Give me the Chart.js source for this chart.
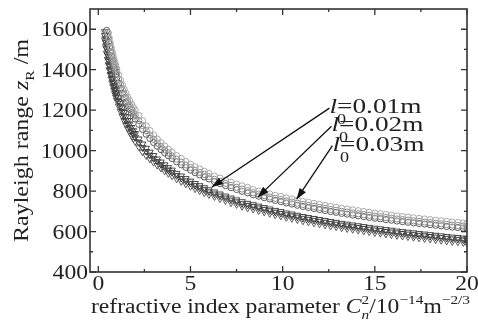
<!DOCTYPE html>
<html>
<head>
<meta charset="utf-8">
<script src="https://cdn.jsdelivr.net/npm/chart.js@4.4.0/dist/chart.umd.min.js"></script>
<style>
  html, body { margin: 0; padding: 0; background: #fff; }
</style>
</head>
<body>
<canvas id="chart" width="478" height="324"></canvas>
<script>
// values (Rayleigh range in m against Cn^2 in 1e-14 m^-2/3)
const xValues = [
  0.35, 0.4, 0.45, 0.5, 0.55, 0.6, 0.65, 0.7, 0.75, 0.8, 0.85, 0.9, 0.95, 1.0,
  1.1, 1.2, 1.3, 1.4, 1.5, 1.6, 1.7, 1.8, 1.9, 2.0, 2.2, 2.4,
  2.6, 2.8, 3.0, 3.2, 3.4, 3.6, 3.8, 4.0, 4.25, 4.5, 4.75, 5.0, 5.25, 5.5, 5.75, 6.0,
  6.3, 6.6, 6.9, 7.2, 7.5, 7.8, 8.1,
  8.4, 8.7, 9.0, 9.3, 9.6, 9.9, 10.2, 10.5, 10.8, 11.1, 11.4, 11.7, 12.0, 12.3, 12.6, 12.9, 13.2, 13.5, 13.8, 14.1,
  14.4, 14.7, 15.0, 15.3, 15.6, 15.9, 16.2, 16.5, 16.8, 17.1, 17.4, 17.7, 18.0, 18.3, 18.6, 18.9, 19.2, 19.5, 19.8, 20
];

// upper group, hollow circles (l0 = 0.01 / 0.02 / 0.03 m)
const upper001 = [
  null, null, 1594, 1564, 1537, 1512, 1489, 1467, 1447, 1428, 1410, 1393, 1377, 1361,
  1333, 1307, 1283, 1261, 1240, 1221, 1204, 1187, 1171, 1157, 1130, 1105,
  1081, 1060, 1040, 1022, 1005, 989, 975, 961, 945, 930, 917, 904, 891, 880, 870, 860,
  847, 837, 827, 817, 808, 799, 791,
  782, 775, 768, 761, 754, 748, 741, 736, 730, 724, 719, 714, 709, 704, 699, 695, 690, 686, 682, 678,
  674, 670, 666, 663, 659, 656, 652, 649, 646, 643, 640, 637, 634, 631, 628, 625, 622, 620, 617, 615
];
const upper002 = [
  null, null, null, 1583, 1556, 1531, 1508, 1486, 1466, 1447, 1429, 1412, 1396, 1380,
  1352, 1326, 1302, 1280, 1259, 1240, 1223, 1206, 1190, 1176, 1149, 1124,
  1099, 1077, 1056, 1037, 1020, 1003, 988, 974, 958, 943, 929, 916, 903, 892, 882, 871,
  858, 848, 838, 828, 819, 810, 802,
  792, 785, 778, 771, 764, 758, 751, 746, 740, 734, 729, 724, 719, 714, 709, 705, 700, 696, 692, 688,
  684, 680, 676, 673, 669, 666, 662, 659, 656, 653, 650, 647, 644, 641, 638, 635, 632, 630, 627, 625
];
const upper003 = [
  null, null, null, null, 1580, 1555, 1532, 1510, 1490, 1471, 1453, 1436, 1420, 1404,
  1376, 1350, 1326, 1304, 1283, 1264, 1247, 1230, 1214, 1200, 1173, 1148,
  1122, 1099, 1077, 1057, 1039, 1023, 1007, 993, 975, 961, 946, 933, 920, 909, 898, 887,
  874, 864, 854, 844, 835, 826, 818,
  807, 800, 793, 786, 779, 773, 766, 761, 755, 749, 744, 739, 734, 729, 724, 720, 715, 711, 707, 703,
  699, 695, 691, 688, 684, 681, 677, 674, 671, 668, 665, 662, 659, 656, 653, 650, 647, 645, 642, 640
];

// lower group, down triangles
const lower1 = [
  1588, 1554, 1522, 1492, 1465, 1440, 1417, 1395, 1375, 1356, 1338, 1321, 1305, 1289,
  1261, 1235, 1211, 1189, 1168, 1149, 1132, 1115, 1099, 1085, 1058, 1033,
  1012, 993, 976, 959, 944, 930, 916, 904, 888, 875, 862, 850, 838, 827, 817, 807,
  796, 786, 776, 766, 757, 748, 740,
  733, 726, 719, 712, 705, 699, 692, 687, 681, 675, 670, 665, 660, 655, 650, 646, 641, 637, 633, 629,
  625, 621, 617, 614, 610, 607, 603, 600, 597, 594, 591, 588, 585, 582, 579, 576, 573, 571, 568, 566
];
const lower2 = [
  1570, 1536, 1504, 1474, 1447, 1422, 1399, 1377, 1357, 1338, 1320, 1303, 1287, 1271,
  1243, 1217, 1193, 1171, 1150, 1131, 1114, 1097, 1081, 1067, 1040, 1015,
  996, 978, 961, 946, 931, 917, 904, 892, 877, 863, 851, 839, 827, 816, 807, 797,
  786, 776, 766, 756, 747, 738, 730,
  724, 717, 710, 703, 696, 690, 683, 678, 672, 666, 661, 656, 651, 646, 641, 637, 632, 628, 624, 620,
  616, 612, 608, 605, 601, 598, 594, 591, 588, 585, 582, 579, 576, 573, 570, 567, 564, 562, 559, 557
];
const lower3 = [
  1548, 1514, 1482, 1452, 1425, 1400, 1377, 1355, 1335, 1316, 1298, 1281, 1265, 1249,
  1221, 1195, 1171, 1149, 1128, 1109, 1092, 1075, 1059, 1045, 1018, 993,
  975, 958, 942, 927, 913, 899, 887, 875, 860, 847, 835, 823, 811, 801, 791, 782,
  772, 762, 752, 742, 733, 724, 716,
  710, 703, 696, 689, 682, 676, 669, 664, 658, 652, 647, 642, 637, 632, 627, 623, 618, 614, 610, 606,
  602, 598, 594, 591, 587, 584, 580, 577, 574, 571, 568, 565, 562, 559, 556, 553, 550, 548, 545, 543
];

const xMajorTicks = [0, 5, 10, 15, 20];
const xMinorTicks = [2.5, 7.5, 12.5, 17.5];
const yMajorTicks = [400, 600, 800, 1000, 1200, 1400, 1600];
const yMinorTicks = [500, 700, 900, 1100, 1300, 1500];

const legendLabels = ["=0.01m", "=0.02m", "=0.03m"];
const arrowFrom = [[12.54, 1210], [12.65, 1120], [12.7, 1025]];
const arrowTo = [[6.16, 820], [8.65, 770], [10.76, 760]];

const SERIF = "'Liberation Serif', 'Times New Roman', serif";
const INK = "#222";

function fontFor(size, italic) {
  return `${italic ? "italic " : ""}${size}px ${SERIF}`;
}

// parts: { t, it, sub, sup, still, dy } ; still = pen does not move on
// the picture's type is a bit wide, so glyphs are stretched by sx
function richText(ctx, parts, x, y, opts) {
  const { size = 20, sx = 1.18, draw = true } = opts || {};
  let cx = x;
  parts.forEach((p) => {
    const s = p.sub || p.sup ? Math.round(size * 0.65) : size;
    ctx.font = fontFor(s, p.it);
    const dy = p.dy !== undefined ? p.dy : p.sub ? size * 0.3 : p.sup ? -size * 0.45 : 0;
    if (draw) {
      ctx.save();
      ctx.translate(cx, y + dy);
      ctx.scale(sx, 1);
      ctx.fillText(p.t, 0, 0);
      ctx.restore();
    }
    if (!p.still) cx += ctx.measureText(p.t).width * sx;
  });
  return cx - x;
}

function toSeries(values) {
  return xValues.map((x, i) => ({ x, y: values[i] }));
}

function circleSet(label, values, color) {
  return {
    label,
    data: toSeries(values),
    pointStyle: "circle",
    pointRadius: 3.1,
    borderWidth: 1,
    borderColor: color,
    backgroundColor: "rgba(255,255,255,0)",
    showLine: false,
  };
}

function triangleSet(label, values, color) {
  return {
    label,
    data: toSeries(values),
    pointStyle: "triangle",
    rotation: 180,
    pointRadius: 3.8,
    borderWidth: 1,
    borderColor: color,
    backgroundColor: "rgba(255,255,255,0)",
    showLine: false,
  };
}

const decorations = {
  id: "decorations",
  afterDatasetsDraw(chart) {
    const { ctx, chartArea: area } = chart;
    const xs = chart.scales.x;
    const ys = chart.scales.y;
    ctx.save();

    // frame
    ctx.strokeStyle = "#333";
    ctx.lineWidth = 1.6;
    ctx.strokeRect(area.left, area.top, area.right - area.left, area.bottom - area.top);

    // inward ticks on all four sides
    ctx.lineWidth = 1.3;
    ctx.beginPath();
    const xTick = (v, len) => {
      const px = xs.getPixelForValue(v);
      ctx.moveTo(px, area.bottom); ctx.lineTo(px, area.bottom - len);
      ctx.moveTo(px, area.top); ctx.lineTo(px, area.top + len);
    };
    const yTick = (v, len) => {
      const py = ys.getPixelForValue(v);
      ctx.moveTo(area.left, py); ctx.lineTo(area.left + len, py);
      ctx.moveTo(area.right, py); ctx.lineTo(area.right - len, py);
    };
    xMajorTicks.forEach((v) => xTick(v, 6));
    xMinorTicks.forEach((v) => xTick(v, 3));
    yMajorTicks.forEach((v) => yTick(v, 6));
    yMinorTicks.forEach((v) => yTick(v, 3));
    ctx.stroke();

    // tick labels
    ctx.fillStyle = INK;
    ctx.textAlign = "left";
    ctx.textBaseline = "alphabetic";
    yMajorTicks.forEach((v) => {
      const parts = [{ t: String(v) }];
      const w = richText(ctx, parts, 0, 0, { draw: false });
      richText(ctx, parts, area.left - 2 - w, ys.getPixelForValue(v) + 7);
    });
    xMajorTicks.forEach((v) => {
      const parts = [{ t: String(v) }];
      const w = richText(ctx, parts, 0, 0, { draw: false });
      richText(ctx, parts, xs.getPixelForValue(v) - w / 2, area.bottom + 18);
    });

    // axis titles
    const xTitle = [
      { t: "refractive index parameter " },
      { t: "C", it: true },
      { t: "n", it: true, sub: true, still: true },
      { t: "2", sup: true },
      { t: "/10" },
      { t: "\u221214", sup: true },
      { t: "m" },
      { t: "\u22122/3", sup: true },
    ];
    const xw = richText(ctx, xTitle, 0, 0, { draw: false });
    richText(ctx, xTitle, (area.left + area.right) / 2 + 2 - xw / 2, 313);

    const yTitle = [
      { t: "Rayleigh range " },
      { t: "z", it: true },
      { t: "R", sub: true },
      { t: " /m" },
    ];
    const yw = richText(ctx, yTitle, 0, 0, { draw: false, sx: 1.2 });
    ctx.save();
    ctx.translate(28, (area.top + area.bottom) / 2);
    ctx.rotate(-Math.PI / 2);
    richText(ctx, yTitle, -yw / 2, 0, { sx: 1.2 });
    ctx.restore();

    // l0 labels with arrows
    legendLabels.forEach((label, i) => {
      const x0 = xs.getPixelForValue(arrowFrom[i][0]);
      const y0 = ys.getPixelForValue(arrowFrom[i][1]);
      const x1 = xs.getPixelForValue(arrowTo[i][0]);
      const y1 = ys.getPixelForValue(arrowTo[i][1]);
      ctx.strokeStyle = "#111";
      ctx.fillStyle = "#111";
      ctx.lineWidth = 1.3;
      ctx.beginPath();
      ctx.moveTo(x0, y0);
      ctx.lineTo(x1, y1);
      ctx.stroke();
      const ang = Math.atan2(y1 - y0, x1 - x0);
      const len = 11, half = 3.8;
      ctx.beginPath();
      ctx.moveTo(x1, y1);
      ctx.lineTo(x1 - len * Math.cos(ang) - half * Math.sin(ang), y1 - len * Math.sin(ang) + half * Math.cos(ang));
      ctx.lineTo(x1 - len * Math.cos(ang) + half * Math.sin(ang), y1 - len * Math.sin(ang) - half * Math.cos(ang));
      ctx.closePath();
      ctx.fill();

      ctx.fillStyle = INK;
      richText(ctx, [
        { t: "l", it: true },
        { t: "0", sub: true, still: true, dy: 11 },
        { t: label },
      ], x0, y0 + 5, { size: 21, sx: 1.3 });
    });

    ctx.restore();
  },
};

new Chart(document.getElementById("chart"), {
  type: "scatter",
  data: {
    datasets: [
      circleSet("upper l0=0.03m", upper003, "#a8a8a8"),
      circleSet("upper l0=0.02m", upper002, "#8a8a8a"),
      circleSet("upper l0=0.01m", upper001, "#5a5a5a"),
      triangleSet("lower 1", lower1, "#4a4a4a"),
      triangleSet("lower 2", lower2, "#3a3a3a"),
      triangleSet("lower 3", lower3, "#5a5a5a"),
    ],
  },
  options: {
    responsive: false,
    animation: false,
    layout: { padding: { left: 90, right: 11, top: 9, bottom: 52 } },
    scales: {
      x: { type: "linear", min: -0.45, max: 20, display: false },
      y: { type: "linear", min: 400, max: 1700, display: false },
    },
    plugins: {
      legend: { display: false },
      tooltip: { enabled: false },
    },
  },
  plugins: [decorations],
});
</script>
</body>
</html>
